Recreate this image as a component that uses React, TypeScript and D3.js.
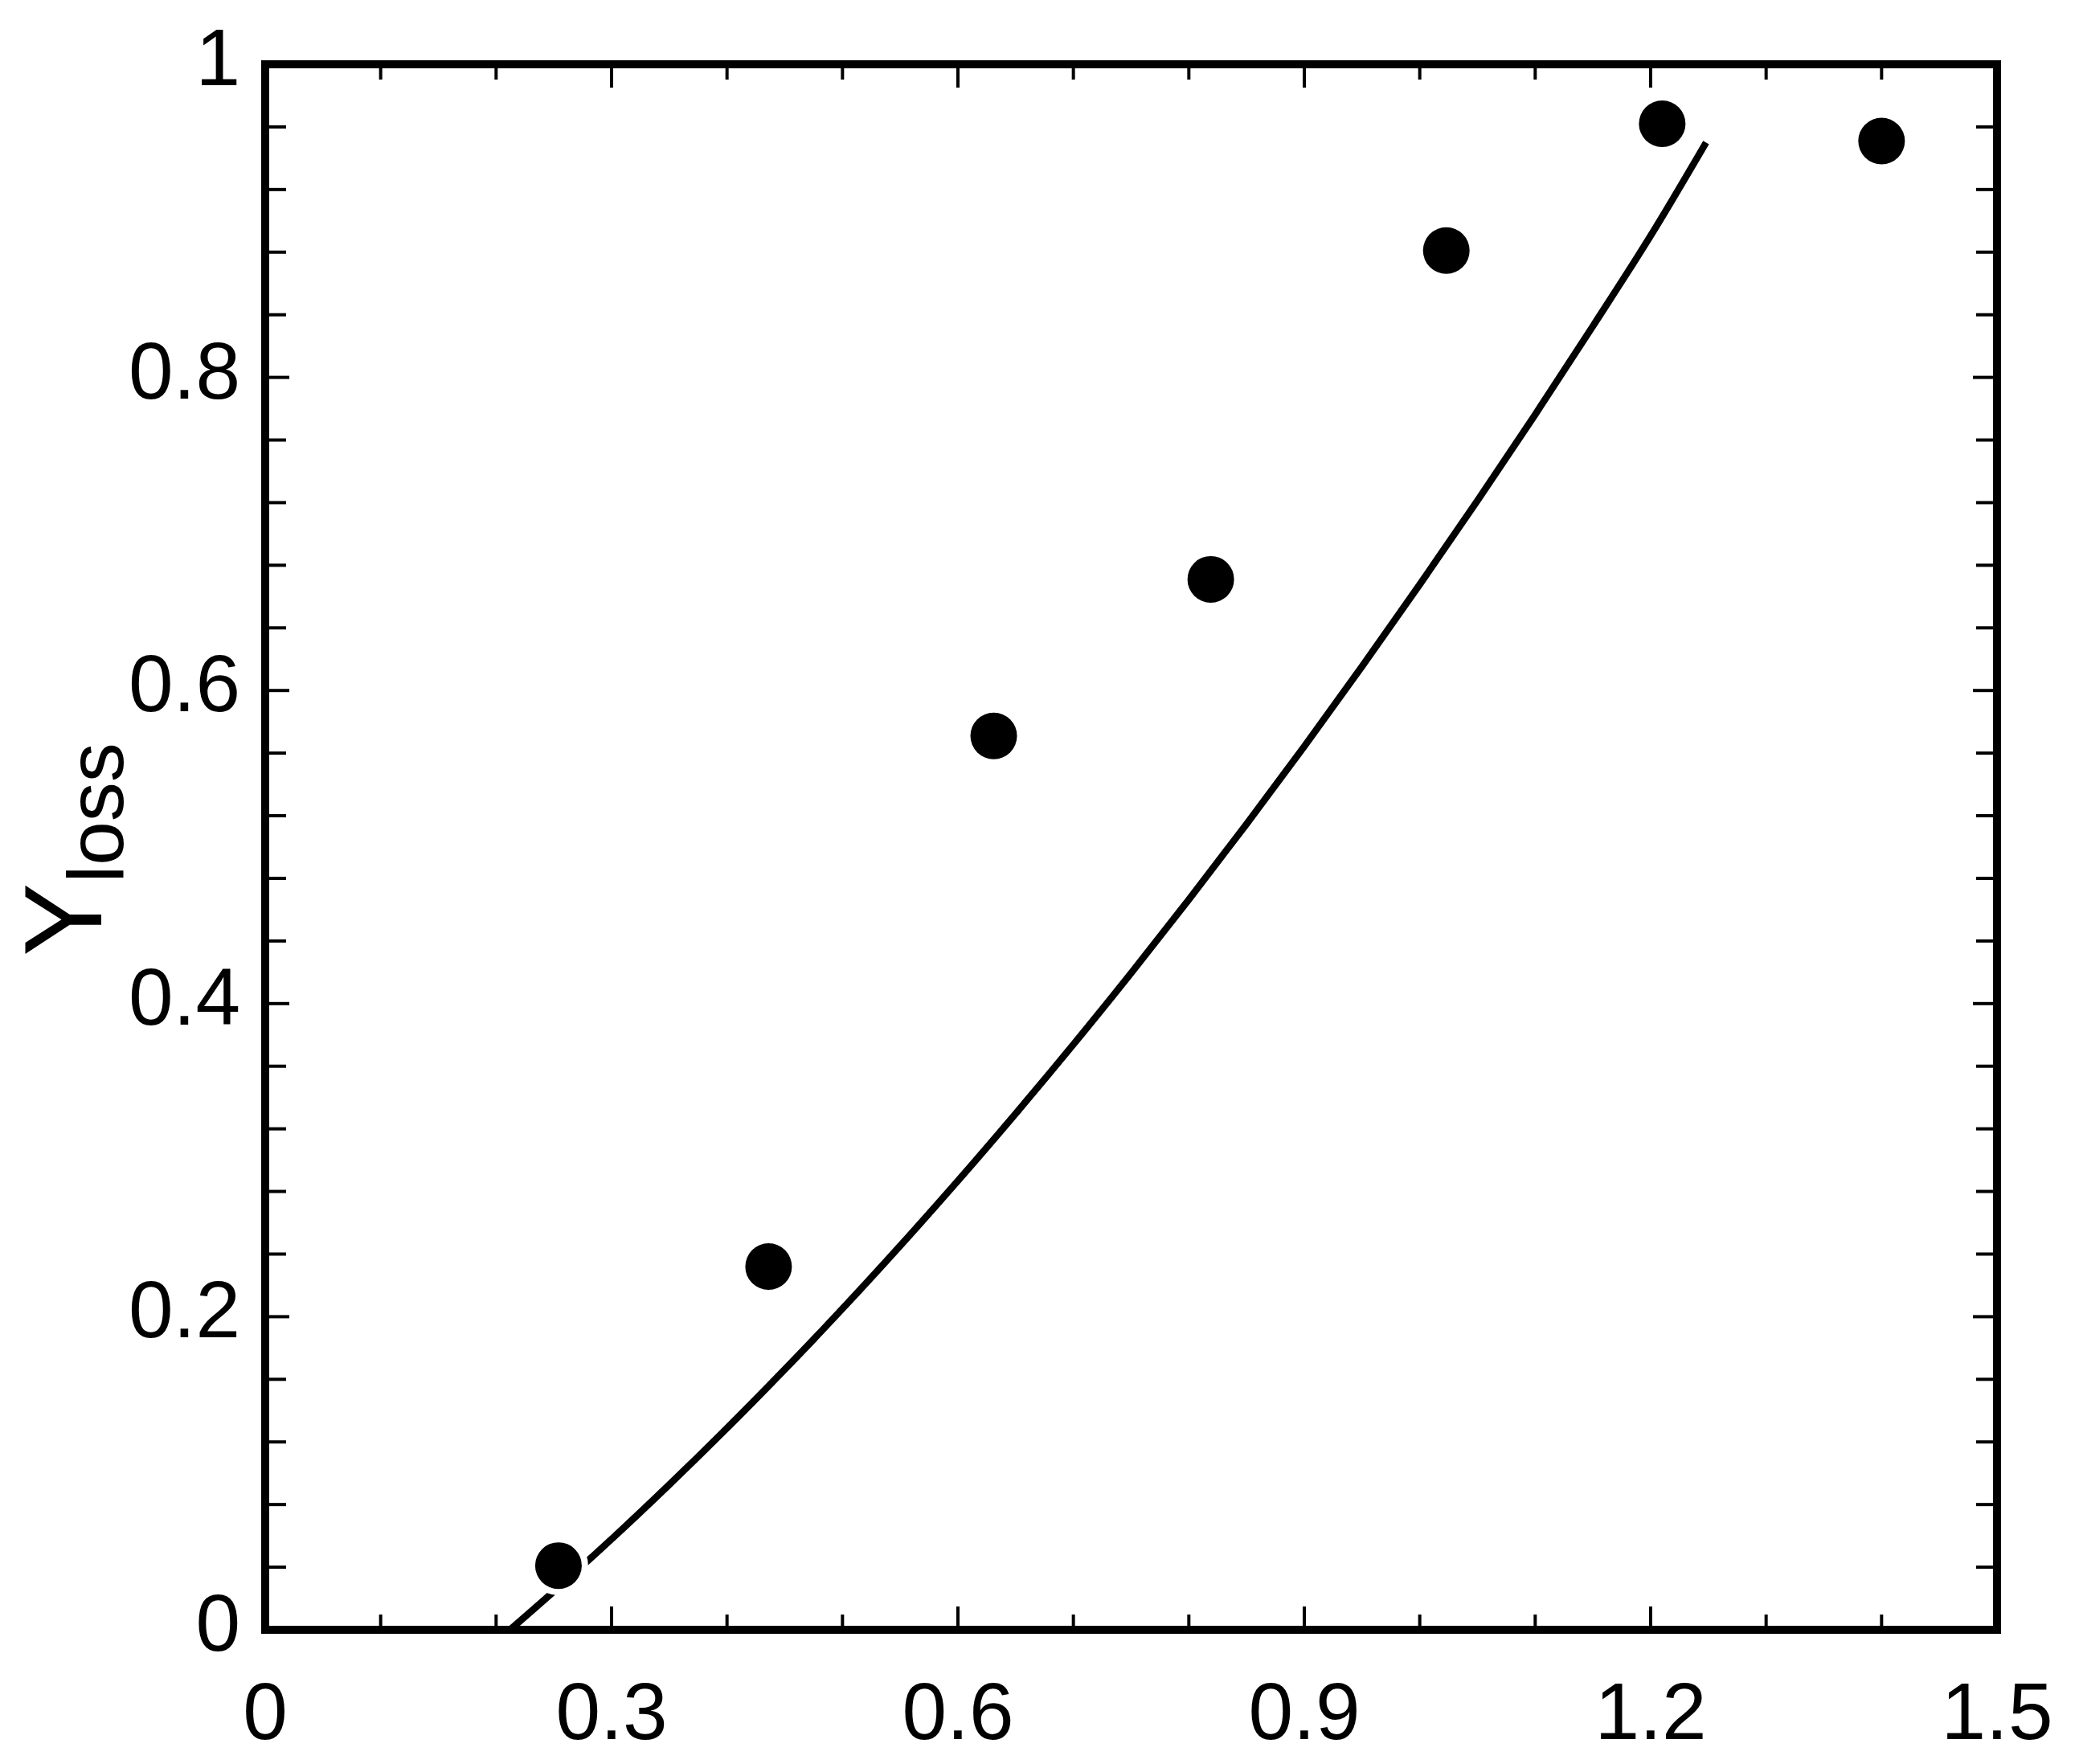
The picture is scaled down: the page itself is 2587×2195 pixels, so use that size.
import React from "react";
import * as d3 from "d3";

// Measured points (symbols)
const pointX = [0.254, 0.436, 0.631, 0.819, 1.023, 1.21, 1.40];
const pointY = [0.041, 0.232, 0.571, 0.671, 0.881, 0.962, 0.951];

// Fitted curve
const curveX = [0.212, 0.25, 0.3, 0.35, 0.4, 0.45, 0.5, 0.55, 0.6, 0.65, 0.7, 0.75, 0.8, 0.85, 0.9, 0.95, 1.0, 1.05, 1.1, 1.15, 1.2, 1.248];
const curveY = [0.0, 0.0245, 0.0579, 0.0927, 0.1288, 0.1663, 0.2051, 0.2453, 0.2868, 0.3297, 0.3739, 0.4195, 0.4665, 0.5147, 0.5643, 0.6154, 0.6677, 0.7213, 0.7763, 0.8328, 0.8905, 0.950];

const xMajorTicks = [0, 0.3, 0.6, 0.9, 1.2, 1.5];
const xTickLabels = ["0", "0.3", "0.6", "0.9", "1.2", "1.5"];
const yMajorTicks = [0, 0.2, 0.4, 0.6, 0.8, 1];
const yTickLabels = ["0", "0.2", "0.4", "0.6", "0.8", "1"];

const W = 2587;
const H = 2195;
const L = 330, R = 2485, T = 80, B = 2028;
const FONT = "'Liberation Sans', Arial, Helvetica, sans-serif";

export default function App() {
  const x = d3.scaleLinear().domain([0, 1.5]).range([L, R]);
  const y = d3.scaleLinear().domain([0, 1]).range([B, T]);

  const xMinor = d3.range(0, 16).map((i) => i / 10);
  const yMinor = d3.range(0, 26).map((i) => i * 0.04);
  const isXMajor = (v: number) => xMajorTicks.some((m) => Math.abs(m - v) < 1e-6);
  const isYMajor = (v: number) => yMajorTicks.some((m) => Math.abs(m - v) < 1e-6);

  const line = d3
    .line<number>()
    .x((_, i) => x(curveX[i]))
    .y((d) => y(d))
    .curve(d3.curveCatmullRom);

  return (
    <svg
      width={W}
      height={H}
      style={{ position: "fixed", left: 0, top: 0, background: "#fff" }}
      xmlns="http://www.w3.org/2000/svg"
    >
      <rect x={0} y={0} width={W} height={H} fill="#fff" />
      {/* curve */}
      <path d={line(curveY) || ""} fill="none" stroke="#000" strokeWidth={8.5} />
      {/* symbols with white halo */}
      {pointX.map((px, i) => (
        <g key={i}>
          <circle cx={x(px)} cy={y(pointY[i])} r={37} fill="#fff" />
          <circle cx={x(px)} cy={y(pointY[i])} r={29} fill="#000" />
        </g>
      ))}
      {/* ticks */}
      {xMinor.map((v, i) => {
        const len = isXMajor(v) ? 29 : 19;
        if (v <= 0 || v >= 1.5) return null;
        return (
          <g key={"xt" + i}>
            <line x1={x(v)} x2={x(v)} y1={B} y2={B - len} stroke="#000" strokeWidth={4} />
            <line x1={x(v)} x2={x(v)} y1={T} y2={T + len} stroke="#000" strokeWidth={4} />
          </g>
        );
      })}
      {yMinor.map((v, i) => {
        const len = isYMajor(v) ? 30 : 26;
        if (v <= 0 || v >= 1) return null;
        return (
          <g key={"yt" + i}>
            <line x1={L} x2={L + len} y1={y(v)} y2={y(v)} stroke="#000" strokeWidth={4} />
            <line x1={R} x2={R - len} y1={y(v)} y2={y(v)} stroke="#000" strokeWidth={4} />
          </g>
        );
      })}
      {/* frame */}
      <rect x={L} y={T} width={R - L} height={B - T} fill="none" stroke="#000" strokeWidth={10} />
      {/* x tick labels */}
      {xMajorTicks.map((v, i) => (
        <text
          key={"xl" + i}
          x={x(v)}
          y={2164}
          textAnchor="middle"
          fontFamily={FONT}
          fontSize={100}
          fill="#000"
        >
          {xTickLabels[i]}
        </text>
      ))}
      {/* y tick labels */}
      {yMajorTicks.map((v, i) => (
        <text
          key={"yl" + i}
          x={299}
          y={y(v) + 26}
          textAnchor="end"
          fontFamily={FONT}
          fontSize={100}
          fill="#000"
        >
          {yTickLabels[i]}
        </text>
      ))}
      {/* y axis title */}
      <text
        transform={`translate(126, 1190) rotate(-90)`}
        fontFamily={FONT}
        fontSize={137}
        fill="#000"
      >
        <tspan>Y</tspan>
        <tspan fontSize={98} dy={27}>loss</tspan>
      </text>
    </svg>
  );
}
